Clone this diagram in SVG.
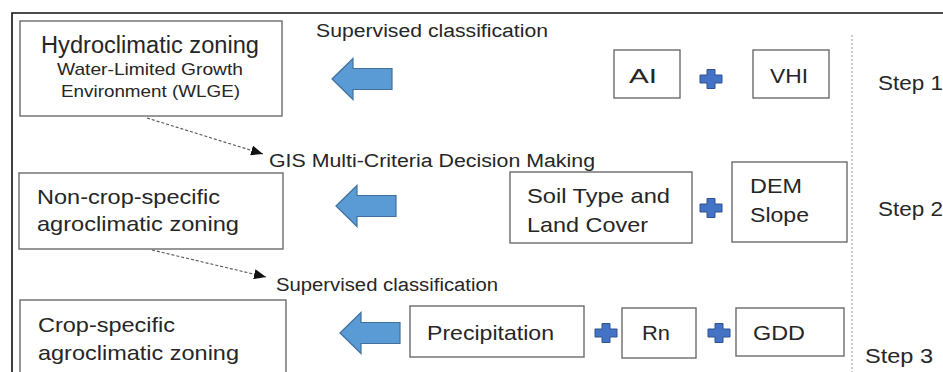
<svg xmlns="http://www.w3.org/2000/svg" xmlns:xlink="http://www.w3.org/1999/xlink" width="943" height="372" viewBox="0 0 943 372">
<style>
text{font-family:"Liberation Sans",Arial,sans-serif;fill:#262626}
.box{fill:#fff;stroke:#6b6b6b;stroke-width:1.4}
.t20{font-size:21px}
.t17{font-size:18px}
.t16{font-size:17px}
.frame{stroke:#111;stroke-width:1.6;fill:none}
.dash{stroke:#555;stroke-width:1.1;stroke-dasharray:3 2;fill:none}
.vdot{stroke:#999;stroke-width:1;stroke-dasharray:2 2;fill:none}
.barrow{fill:#5B9BD5;stroke:#41719C;stroke-width:1.2}
.plus{fill:#4472C4;stroke:#2F528F;stroke-width:1}
</style>
<defs>
<marker id="ah" viewBox="0 0 12 10" refX="12" refY="5" markerWidth="12" markerHeight="10" markerUnits="userSpaceOnUse" orient="auto">
<path d="M0,0 L12,5 L0,10 Z" fill="#111"/>
</marker>
<path id="larrow" d="M0,0 L21,-20.5 L21,-10.5 L60,-10.5 L60,10.5 L21,10.5 L21,20.5 Z"/>
<path id="plus" d="M-4,-9.5 H4 V-4 H11 V4 H4 V9.5 H-4 V4 H-11 V-4 H-4 Z"/>
</defs>
<rect width="943" height="372" fill="#fff"/>
<path class="frame" d="M12,380 V13 H945"/>
<line class="vdot" x1="852" y1="35" x2="852" y2="372"/>

<g id="connectors">
<line class="dash" x1="147" y1="118" x2="263" y2="154" marker-end="url(#ah)"/>
<line class="dash" x1="152" y1="250" x2="266" y2="277" marker-end="url(#ah)"/>
<use href="#larrow" class="barrow" x="332" y="79"/>
<use href="#larrow" class="barrow" x="336" y="206"/>
<use href="#larrow" class="barrow" x="340" y="333"/>
<use href="#plus" class="plus" x="711" y="79"/>
<use href="#plus" class="plus" x="711" y="208"/>
<use href="#plus" class="plus" x="606" y="333"/>
<use href="#plus" class="plus" x="719" y="333"/>
</g>

<g id="label-sup1"><text class="t17" x="316" y="37" textLength="232" lengthAdjust="spacingAndGlyphs">Supervised  classification</text></g>
<g id="label-gis"><text class="t17" x="269" y="167" textLength="326" lengthAdjust="spacingAndGlyphs">GIS Multi-Criteria Decision Making</text></g>
<g id="label-sup2"><text class="t17" x="276" y="291" textLength="222" lengthAdjust="spacingAndGlyphs">Supervised classification</text></g>

<g id="hydro">
<rect class="box" x="20" y="21" width="262" height="95"/>
<text x="41" y="53" font-size="23" textLength="218" lengthAdjust="spacingAndGlyphs">Hydroclimatic zoning</text>
<text class="t16" x="57" y="75" textLength="186" lengthAdjust="spacingAndGlyphs">Water-Limited Growth</text>
<text class="t16" x="61" y="97" textLength="179" lengthAdjust="spacingAndGlyphs">Environment (WLGE)</text>
</g>
<g id="noncrop">
<rect class="box" x="19" y="173" width="264" height="76"/>
<text class="t20" x="37" y="204" textLength="183" lengthAdjust="spacingAndGlyphs">Non-crop-specific</text>
<text class="t20" x="37" y="231" textLength="202" lengthAdjust="spacingAndGlyphs">agroclimatic zoning</text>
</g>
<g id="crop">
<rect class="box" x="20" y="300" width="266" height="80"/>
<text class="t20" x="38" y="332" textLength="137" lengthAdjust="spacingAndGlyphs">Crop-specific</text>
<text class="t20" x="38" y="360" textLength="201" lengthAdjust="spacingAndGlyphs">agroclimatic zoning</text>
</g>

<g id="ai">
<rect class="box" x="614" y="50" width="66" height="48"/>
<text class="t20" x="629" y="83" textLength="28" lengthAdjust="spacingAndGlyphs">AI</text>
</g>
<g id="vhi">
<rect class="box" x="753" y="50" width="76" height="48"/>
<text class="t20" x="770" y="83" textLength="38" lengthAdjust="spacingAndGlyphs">VHI</text>
</g>
<g id="soil">
<rect class="box" x="510" y="172" width="182" height="71"/>
<text class="t20" x="527" y="203" textLength="143" lengthAdjust="spacingAndGlyphs">Soil Type and</text>
<text class="t20" x="527" y="232" textLength="121" lengthAdjust="spacingAndGlyphs">Land Cover</text>
</g>
<g id="dem">
<rect class="box" x="732" y="162" width="115" height="80"/>
<text class="t20" x="750" y="193" textLength="52" lengthAdjust="spacingAndGlyphs">DEM</text>
<text class="t20" x="750" y="222" textLength="59" lengthAdjust="spacingAndGlyphs">Slope</text>
</g>
<g id="precip">
<rect class="box" x="410" y="306" width="174" height="51"/>
<text class="t20" x="427" y="340" textLength="127" lengthAdjust="spacingAndGlyphs">Precipitation</text>
</g>
<g id="rn">
<rect class="box" x="622" y="308" width="74" height="50"/>
<text class="t20" x="642" y="340" textLength="28" lengthAdjust="spacingAndGlyphs">Rn</text>
</g>
<g id="gdd">
<rect class="box" x="736" y="308" width="108" height="48"/>
<text class="t20" x="753" y="340" textLength="52" lengthAdjust="spacingAndGlyphs">GDD</text>
</g>

<g id="step1"><text class="t20" x="878" y="90" textLength="65" lengthAdjust="spacingAndGlyphs">Step 1</text></g>
<g id="step2"><text class="t20" x="878" y="216" textLength="65" lengthAdjust="spacingAndGlyphs">Step 2</text></g>
<g id="step3"><text class="t20" x="865" y="363" textLength="68" lengthAdjust="spacingAndGlyphs">Step 3</text></g>
</svg>
